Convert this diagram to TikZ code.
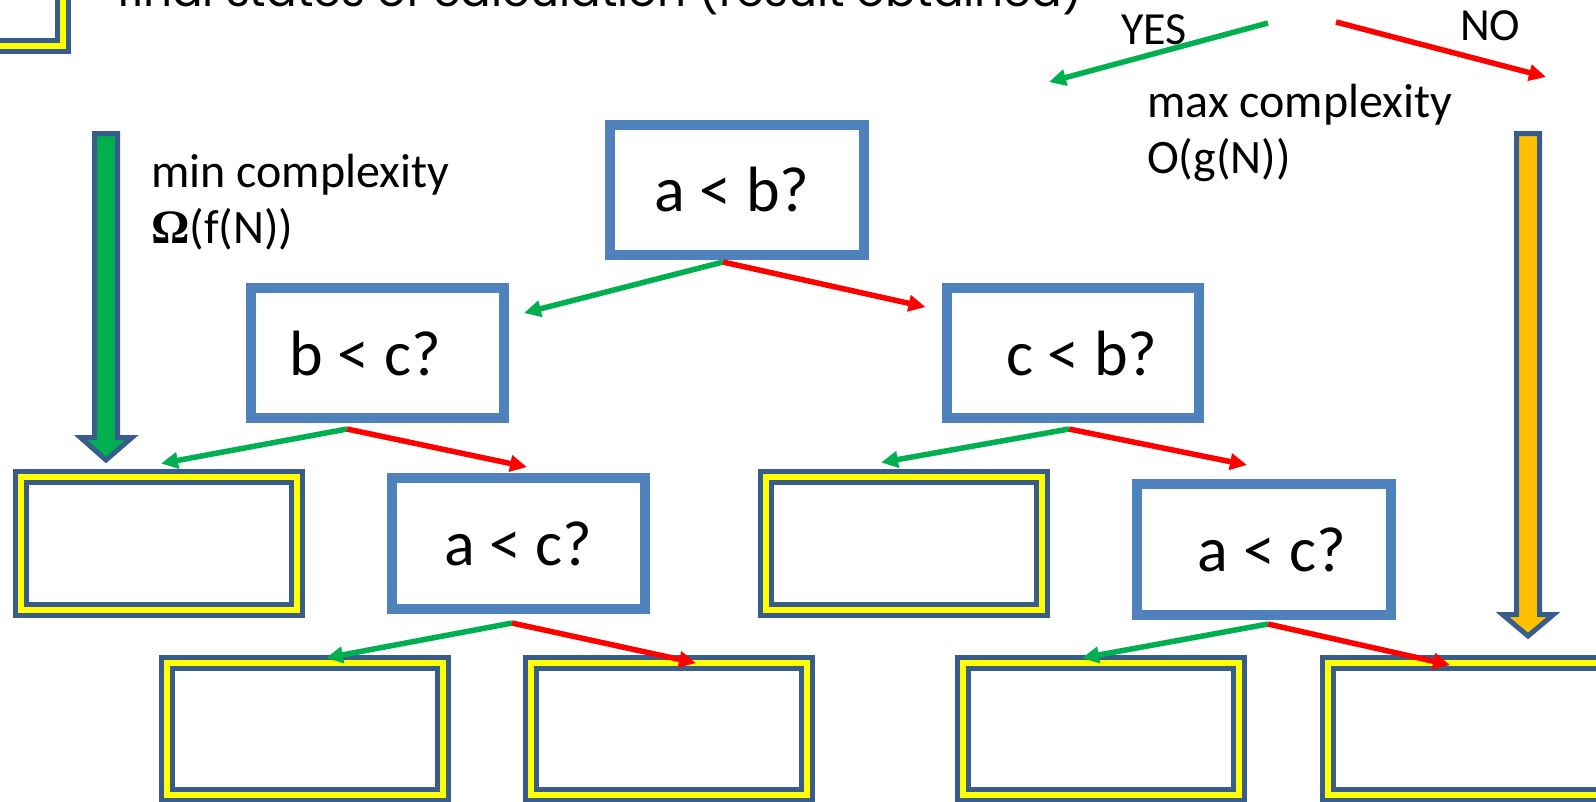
\documentclass[tikz,border=0pt]{standalone}
\usepackage{fontspec}
\usepackage{graphicx}
\setmainfont{Carlito}
\newfontfamily\omegafont{Liberation Serif}
\newfontfamily\topfont{Poppins}
\usetikzlibrary{arrows.meta,calc}
\definecolor{boxblue}{HTML}{4F81BD}
\definecolor{dkblue}{HTML}{385D8A}
\definecolor{fyellow}{HTML}{FFFF00}
\definecolor{lgreen}{HTML}{00B050}
\definecolor{lred}{HTML}{FF0000}
\definecolor{lorange}{HTML}{FFC000}
\newcommand\qsizefont{\fontsize{64pt}{76pt}\selectfont}
\newcommand\sidesizefont{\fontsize{48pt}{56pt}\selectfont}
\newcommand\yessizefont{\fontsize{46pt}{52pt}\selectfont}
\tikzset{
  qbox/.style={draw=boxblue, line width=10pt, fill=white, minimum width=253pt,
    minimum height=130pt, inner sep=0pt, font=\qsizefont},
  finalbox/.style={draw=dkblue, double=fyellow, double distance=6pt, line width=5pt,
    fill=white, minimum width=276pt, minimum height=133pt, inner sep=0pt},
  yesline/.style={draw=lgreen, line width=5.5pt, -{Triangle[length=17pt,width=16pt]}},
  noline/.style={draw=lred, line width=5.5pt, -{Triangle[length=17pt,width=16pt]}},
  sidetext/.style={inner sep=0pt, anchor=base west, font=\sidesizefont},
  yestext/.style={inner sep=0pt, anchor=base west, font=\yessizefont},
  bigarrow/.style={draw=dkblue, line width=5pt, line join=miter}
}
\begin{document}
\begin{tikzpicture}[x=1pt,y=-1pt]
\clip (0,0) rectangle (1596,801);
\fill[white] (0,0) rectangle (1596,801);

% legend box and title
\node[finalbox] (leg) at (-75,-20.5) {};
\node[inner sep=0pt, anchor=base west] (title) at (117,6)
  {\resizebox{966pt}{!}{\fontsize{40pt}{48pt}\selectfont\topfont final states of calculation (result obtained)}};

% legend texts
\node[yestext] (yes) at (1121,44) {YES};
\node[yestext] (no) at (1460,40) {NO};
\coordinate (yS) at (1268,23);
\coordinate (yE) at (1049,82);
\coordinate (nS) at (1336,22);
\coordinate (nE) at (1546,77);
\draw[yesline] (yS) -- (yE);
\draw[noline] (nS) -- (nE);

\node[sidetext] (maxc) at (1147,117) {max complexity};
\node[sidetext] (maxo) at (1147,173) {O(g(N))};
\node[sidetext] (minc) at (151,187) {min complexity};
\node[sidetext] (mino) at (151,243) {{\omegafont\bfseries Ω}(f(N))};

% big arrows
\draw[bigarrow, fill=lgreen] (94.5,133.5) -- (117.5,133.5) -- (117.5,437.5) -- (132,437.5)
  -- (106,460) -- (80.5,437.5) -- (94.5,437.5) -- cycle;
\draw[bigarrow, fill=lorange] (1516.5,133.5) -- (1539.5,133.5) -- (1539.5,614.5) -- (1553.5,614.5)
  -- (1528,636) -- (1502.5,614.5) -- (1516.5,614.5) -- cycle;

% decision boxes
\node[qbox, minimum width=254pt] (ab) at (737,190) {a < b?\hspace*{10pt}};
\node[qbox] (bc) at (377.5,353) {b < c?\hspace*{24pt}};
\node[qbox, minimum width=252pt] (cb) at (1073,353) {\hspace*{18pt}c < b?};
\node[qbox, minimum height=131pt] (lac) at (518.5,543.5) {a < c?};
\node[qbox, minimum width=254pt, minimum height=131pt] (rac) at (1264,549.5) {\hspace*{16pt}a < c?};

% final boxes
\node[finalbox] (y1) at (159,543.5) {};
\node[finalbox] (y2) at (903.5,543.5) {};
\node[finalbox, minimum height=132pt] (b1) at (305,729) {};
\node[finalbox, minimum height=132pt] (b2) at (669,729) {};
\node[finalbox, minimum height=132pt] (b3) at (1100.5,729) {};
\node[finalbox, minimum height=132pt] (b4) at (1466,729) {};

% connectors
\draw[yesline] ($(ab.south)+(-14,2)$) -- ($(bc.north east)+(15,30)$);
\draw[noline]  ($(ab.south)+(-14,2)$) -- ($(cb.north west)+(-16.5,24)$);
\draw[yesline] ($(bc.south)+(-30.5,6)$) -- ($(y1.north)+(2,-11)$);
\draw[noline]  ($(bc.south)+(-30.5,6)$) -- ($(lac.north)+(8.5,-6)$);
\draw[yesline] ($(cb.south)+(-4,6)$) -- ($(y2.north)+(-22.5,-12)$);
\draw[noline]  ($(cb.south)+(-4,6)$) -- ($(rac.north)+(-17,-14)$);
\draw[yesline] ($(lac.south)+(-6.5,9)$) -- ($(b1.north)+(21,-2.5)$);
\draw[noline]  ($(lac.south)+(-6.5,9)$) -- ($(b2.north)+(27,2.5)$);
\draw[yesline] ($(rac.south)+(4,4)$) -- ($(b3.north)+(-18.5,-2.5)$);
\draw[noline]  ($(rac.south)+(4,4)$) -- ($(b4.north)+(-16,4.5)$);
\end{tikzpicture}
\end{document}
